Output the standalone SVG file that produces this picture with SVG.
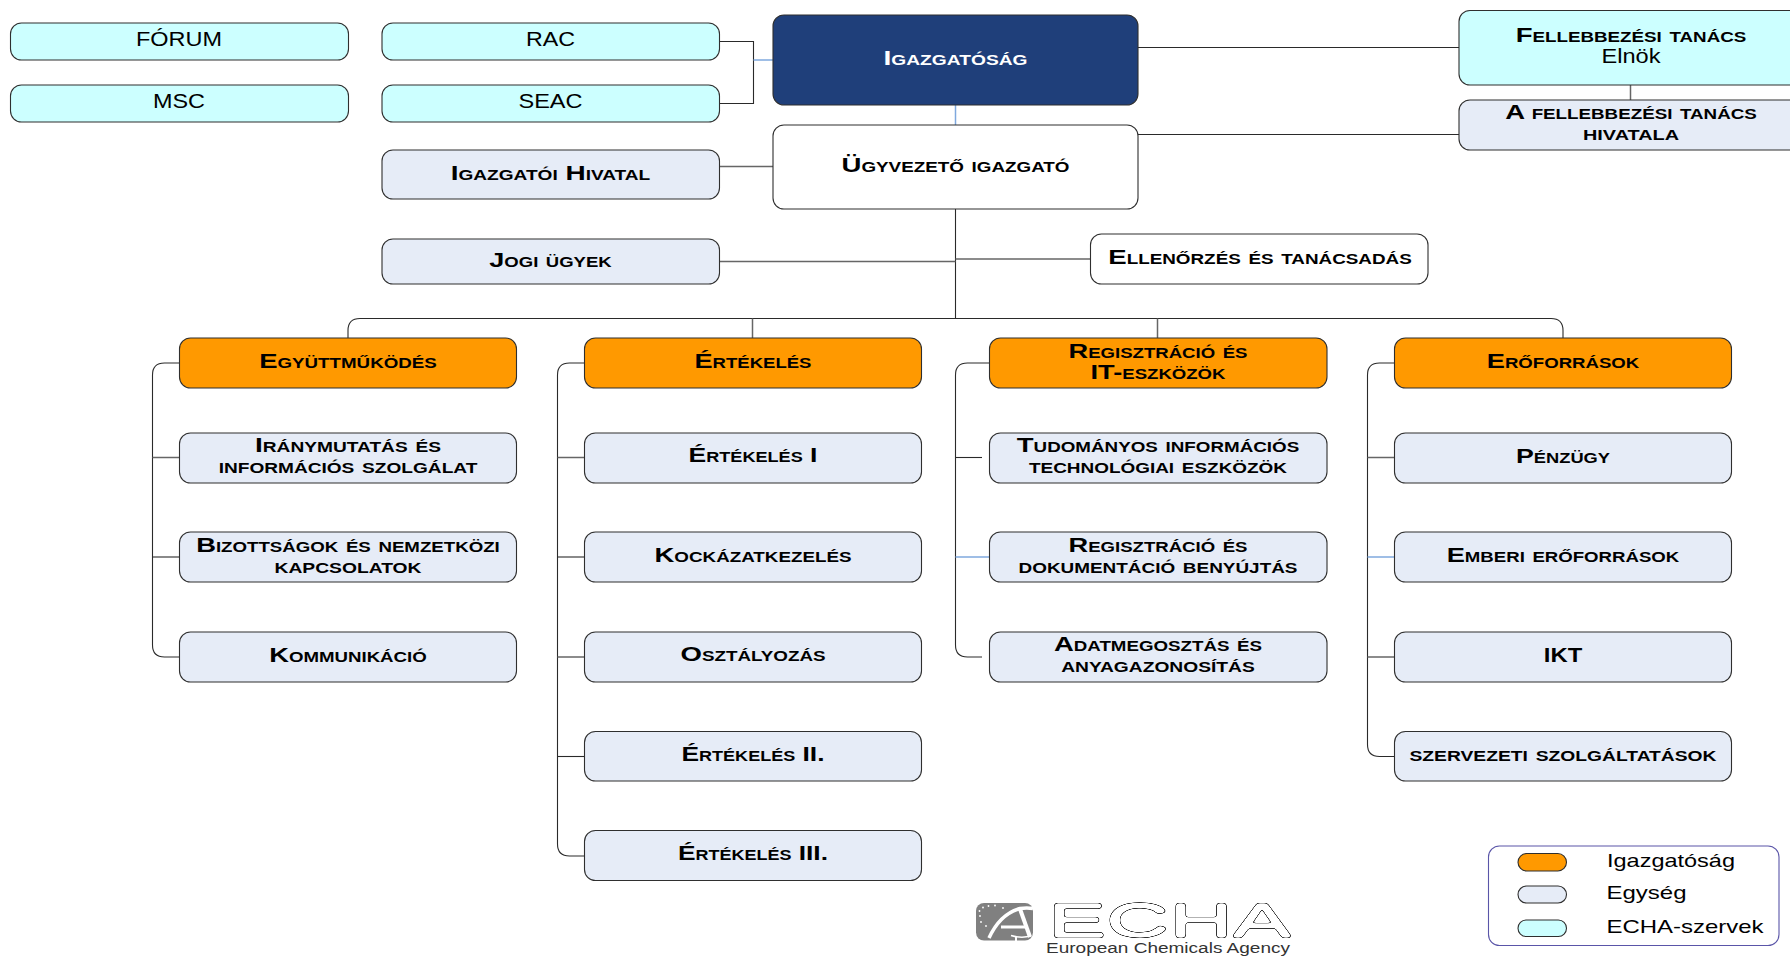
<svg xmlns="http://www.w3.org/2000/svg" width="1790" height="956" viewBox="0 0 1790 956">
<defs>
<filter id="outline" x="-5%" y="-20%" width="110%" height="140%" color-interpolation-filters="sRGB">
<feGaussianBlur in="SourceAlpha" stdDeviation="1.800" result="b"/>
<feComponentTransfer in="b" result="r"><feFuncA type="table" tableValues="0 0 0 0 .6 1 1 .6 0 0 0 0 0 0 0 0 0 0 0 0 0"/></feComponentTransfer>
<feFlood flood-color="#333" result="f"/>
<feComposite in="f" in2="r" operator="in"/>
</filter>
</defs>
<style>
text{font-family:"Liberation Sans",Arial,sans-serif;text-anchor:middle;fill:#000}
.sc{font-weight:bold;font-size:20.500px;font-variant:small-caps}
.rg{font-size:19.500px}
.lg{font-size:18.500px;text-anchor:start}
rect{stroke:#2f2f2f;stroke-width:1.100}
.b{fill:#ccffff}.u{fill:#e6ecf7}.o{fill:#ff9900}.w{fill:#fff}.n{fill:#1f3f7a}
#connectors path{fill:none;stroke:#2a2a2a;stroke-width:1.100}
#connectors .bl{stroke:#7fa8de;stroke-width:1.500}
#connectors .g{stroke:#666;stroke-width:1.500}
</style>
<g id="connectors">
<path d="M719.500 41.500H753.500V103.500H719.500"/>
<path class="bl" d="M753.500 60H773"/>
<path class="bl" d="M955.500 105V125"/>
<path d="M1138 47.500H1459"/>
<path d="M1138 134.500H1459"/>
<path class="g" d="M1630.500 85V100"/>
<path class="g" d="M719.500 166.500H773"/>
<path d="M955.500 209V318.500"/>
<path class="g" d="M719.500 261.500H955.500"/>
<path class="g" d="M955.500 259H1090.500"/>
<path d="M348 338V330.500Q348 318.500 360 318.500H1551Q1563 318.500 1563 330.500V338"/>
<path class="g" d="M752.500 318.500V338"/>
<path class="g" d="M1157.500 318.500V338"/>
<path d="M179.500 363H164.500Q152.500 363 152.500 375V645Q152.500 657 164.500 657H179.500"/>
<path class="g" d="M152.500 457.500H179.500"/>
<path d="M152.500 557H179.500"/>
<path d="M584.500 363H569.500Q557.500 363 557.500 375V844Q557.500 856 569.500 856H584.500"/>
<path class="g" d="M557.500 457.500H584.500"/>
<path d="M557.500 557H584.500"/>
<path class="g" d="M557.500 657H584.500"/>
<path d="M557.500 756.500H584.500"/>
<path d="M989.500 363H967.500Q955.500 363 955.500 375V645Q955.500 657 967.500 657H982"/>
<path d="M955.500 457.500H982"/>
<path class="bl" d="M955.500 557H989.500"/>
<path d="M1394.500 363H1379.500Q1367.500 363 1367.500 375V744.500Q1367.500 756.500 1379.500 756.500H1394.500"/>
<path class="g" d="M1367.500 457.500H1394.500"/>
<path class="bl" d="M1367.500 557H1394.500"/>
<path class="g" d="M1367.500 657H1394.500"/>
</g>
<g id="forum"><rect class="b" x="10.500" y="23" width="338" height="37" rx="11"/><text class="rg" x="179" y="46" textLength="86" lengthAdjust="spacingAndGlyphs">FÓRUM</text></g>
<g id="msc"><rect class="b" x="10.500" y="85" width="338" height="37" rx="11"/><text class="rg" x="179" y="108" textLength="52" lengthAdjust="spacingAndGlyphs">MSC</text></g>
<g id="rac"><rect class="b" x="382" y="23" width="337.500" height="37" rx="11"/><text class="rg" x="550.500" y="46" textLength="49" lengthAdjust="spacingAndGlyphs">RAC</text></g>
<g id="seac"><rect class="b" x="382" y="85" width="337.500" height="37" rx="11"/><text class="rg" x="550.500" y="108" textLength="64" lengthAdjust="spacingAndGlyphs">SEAC</text></g>
<g id="igazgatosag"><rect class="n" x="773" y="15" width="365" height="90" rx="11"/><text class="sc" x="955.500" y="65" textLength="144" lengthAdjust="spacingAndGlyphs" style="fill:#fff">Igazgatóság</text></g>
<g id="ugyvezeto"><rect class="w" x="773" y="125" width="365" height="84" rx="11"/><text class="sc" x="955.500" y="172" textLength="228" lengthAdjust="spacingAndGlyphs">Ügyvezető igazgató</text></g>
<g id="fellebbezesi"><rect class="b" x="1459" y="10.500" width="344" height="74.500" rx="11"/><text class="sc" x="1631" y="42" textLength="230.600" lengthAdjust="spacingAndGlyphs">Fellebbezési tanács</text><text class="rg" x="1631" y="63" textLength="59" lengthAdjust="spacingAndGlyphs">Elnök</text></g>
<g id="fellebbezesi-hivatal"><rect class="u" x="1459" y="100" width="344" height="50" rx="11"/><text class="sc" x="1631" y="119" textLength="251.600" lengthAdjust="spacingAndGlyphs">A fellebbezési tanács</text><text class="sc" x="1631" y="140.200" textLength="96" lengthAdjust="spacingAndGlyphs">hivatala</text></g>
<g id="igazgatoi-hivatal"><rect class="u" x="382" y="150" width="337.500" height="49" rx="11"/><text class="sc" x="550.500" y="180" textLength="199.500" lengthAdjust="spacingAndGlyphs">Igazgatói Hivatal</text></g>
<g id="jogi"><rect class="u" x="382" y="239" width="337.500" height="45" rx="11"/><text class="sc" x="550.500" y="266.500" textLength="122.400" lengthAdjust="spacingAndGlyphs">Jogi ügyek</text></g>
<g id="ellenorzes"><rect class="w" x="1090.500" y="234" width="337.500" height="50" rx="11"/><text class="sc" x="1260" y="264" textLength="303.500" lengthAdjust="spacingAndGlyphs">Ellenőrzés és tanácsadás</text></g>
<g id="egyuttmukodes"><rect class="o" x="179.500" y="338" width="337" height="50" rx="11"/><text class="sc" x="348" y="368" textLength="177.600" lengthAdjust="spacingAndGlyphs">Együttműködés</text></g>
<g id="iranymutatas"><rect class="u" x="179.500" y="433" width="337" height="50" rx="11"/><text class="sc" x="348" y="452.200" textLength="186" lengthAdjust="spacingAndGlyphs">Iránymutatás és</text><text class="sc" x="348" y="473.200" textLength="258.700" lengthAdjust="spacingAndGlyphs">információs szolgálat</text></g>
<g id="bizottsagok"><rect class="u" x="179.500" y="532" width="337" height="50" rx="11"/><text class="sc" x="348" y="551.500" textLength="303.600" lengthAdjust="spacingAndGlyphs">Bizottságok és nemzetközi</text><text class="sc" x="348" y="572.800" textLength="147" lengthAdjust="spacingAndGlyphs">kapcsolatok</text></g>
<g id="kommunikacio"><rect class="u" x="179.500" y="632" width="337" height="50" rx="11"/><text class="sc" x="348" y="661.500" textLength="157.600" lengthAdjust="spacingAndGlyphs">Kommunikáció</text></g>
<g id="ertekeles"><rect class="o" x="584.500" y="338" width="337" height="50" rx="11"/><text class="sc" x="753" y="368" textLength="117" lengthAdjust="spacingAndGlyphs">Értékelés</text></g>
<g id="ertekeles-1"><rect class="u" x="584.500" y="433" width="337" height="50" rx="11"/><text class="sc" x="753" y="462.200" textLength="129" lengthAdjust="spacingAndGlyphs">Értékelés I</text></g>
<g id="kockazat"><rect class="u" x="584.500" y="532" width="337" height="50" rx="11"/><text class="sc" x="753" y="561.800" textLength="197" lengthAdjust="spacingAndGlyphs">Kockázatkezelés</text></g>
<g id="osztalyozas"><rect class="u" x="584.500" y="632" width="337" height="50" rx="11"/><text class="sc" x="753" y="661.200" textLength="145" lengthAdjust="spacingAndGlyphs">Osztályozás</text></g>
<g id="ertekeles-2"><rect class="u" x="584.500" y="731.500" width="337" height="49.500" rx="11"/><text class="sc" x="753" y="760.500" textLength="143" lengthAdjust="spacingAndGlyphs">Értékelés II.</text></g>
<g id="ertekeles-3"><rect class="u" x="584.500" y="830.500" width="337" height="50" rx="11"/><text class="sc" x="753" y="860.200" textLength="150" lengthAdjust="spacingAndGlyphs">Értékelés III.</text></g>
<g id="regisztracio"><rect class="o" x="989.500" y="338" width="337.500" height="50" rx="11"/><text class="sc" x="1158" y="357.500" textLength="179" lengthAdjust="spacingAndGlyphs">Regisztráció és</text><text class="sc" x="1158" y="378.800" textLength="135" lengthAdjust="spacingAndGlyphs">IT-eszközök</text></g>
<g id="tudomanyos"><rect class="u" x="989.500" y="433" width="337.500" height="50" rx="11"/><text class="sc" x="1158" y="452.200" textLength="282.500" lengthAdjust="spacingAndGlyphs">Tudományos információs</text><text class="sc" x="1158" y="473.200" textLength="258" lengthAdjust="spacingAndGlyphs">technológiai eszközök</text></g>
<g id="dokumentacio"><rect class="u" x="989.500" y="532" width="337.500" height="50" rx="11"/><text class="sc" x="1158" y="551.500" textLength="179" lengthAdjust="spacingAndGlyphs">Regisztráció és</text><text class="sc" x="1158" y="572.800" textLength="279" lengthAdjust="spacingAndGlyphs">dokumentáció benyújtás</text></g>
<g id="adatmegosztas"><rect class="u" x="989.500" y="632" width="337.500" height="50" rx="11"/><text class="sc" x="1158" y="650.800" textLength="208" lengthAdjust="spacingAndGlyphs">Adatmegosztás és</text><text class="sc" x="1158" y="672.200" textLength="193.600" lengthAdjust="spacingAndGlyphs">anyagazonosítás</text></g>
<g id="eroforrasok"><rect class="o" x="1394.500" y="338" width="337" height="50" rx="11"/><text class="sc" x="1563" y="368" textLength="152.500" lengthAdjust="spacingAndGlyphs">Erőforrások</text></g>
<g id="penzugy"><rect class="u" x="1394.500" y="433" width="337" height="50" rx="11"/><text class="sc" x="1563" y="462.800" textLength="94" lengthAdjust="spacingAndGlyphs">Pénzügy</text></g>
<g id="emberi"><rect class="u" x="1394.500" y="532" width="337" height="50" rx="11"/><text class="sc" x="1563" y="561.800" textLength="232.600" lengthAdjust="spacingAndGlyphs">Emberi erőforrások</text></g>
<g id="ikt"><rect class="u" x="1394.500" y="632" width="337" height="50" rx="11"/><text class="sc" x="1563" y="661.500" textLength="38.400" lengthAdjust="spacingAndGlyphs">IKT</text></g>
<g id="szervezeti"><rect class="u" x="1394.500" y="731.500" width="337" height="49.500" rx="11"/><text class="sc" x="1563" y="760.500" textLength="307" lengthAdjust="spacingAndGlyphs">szervezeti szolgáltatások</text></g>
<g id="legend">
<rect x="1488.500" y="846" width="290.500" height="99.500" rx="11" fill="#fff" style="stroke:#5a55a8"/>
<rect class="o" x="1518" y="853.500" width="48.500" height="17.500" rx="8.700"/>
<rect class="u" x="1518" y="886" width="48.500" height="17" rx="8.500"/>
<rect class="b" x="1518" y="920" width="48.500" height="16.500" rx="8.200"/>
<text class="lg" x="1607" y="867" textLength="128" lengthAdjust="spacingAndGlyphs">Igazgatóság</text>
<text class="lg" x="1606.500" y="899" textLength="80" lengthAdjust="spacingAndGlyphs">Egység</text>
<text class="lg" x="1606.500" y="933" textLength="157" lengthAdjust="spacingAndGlyphs">ECHA-szervek</text>
</g>
<g id="logo">
<rect x="976" y="903" width="57" height="37.500" rx="8" fill="#808080" style="stroke:none"/>
<g fill="none" stroke="#fff">
<path d="M989 938Q1000 914 1020 908.500Q1027 907.500 1033 908.500" stroke-width="3.500"/>
<path d="M1020 909L1030 937" stroke-width="4"/>
<path d="M1001 927H1025" stroke-width="3"/>
<path d="M1011 935.500Q1021 938.500 1031 936" stroke-width="1.500"/>
<path d="M1016 936V941" stroke-width="2"/>
</g>
<g fill="#fff"><circle cx="980" cy="916" r="0.900"/><circle cx="979.500" cy="911" r="0.900"/><circle cx="983" cy="907.500" r="0.900"/><circle cx="988.500" cy="906" r="0.900"/><circle cx="995" cy="905.500" r="0.900"/><circle cx="1003" cy="908" r="0.900"/><circle cx="981" cy="922" r="0.900"/><circle cx="986" cy="926" r="0.900"/></g>
<text x="1169.500" y="937" font-size="49" textLength="243" lengthAdjust="spacingAndGlyphs" filter="url(#outline)">ECHA</text>
<text x="1168" y="952.500" font-size="15.500" textLength="244" lengthAdjust="spacingAndGlyphs" style="fill:#333">European Chemicals Agency</text>
</g>
</svg>
